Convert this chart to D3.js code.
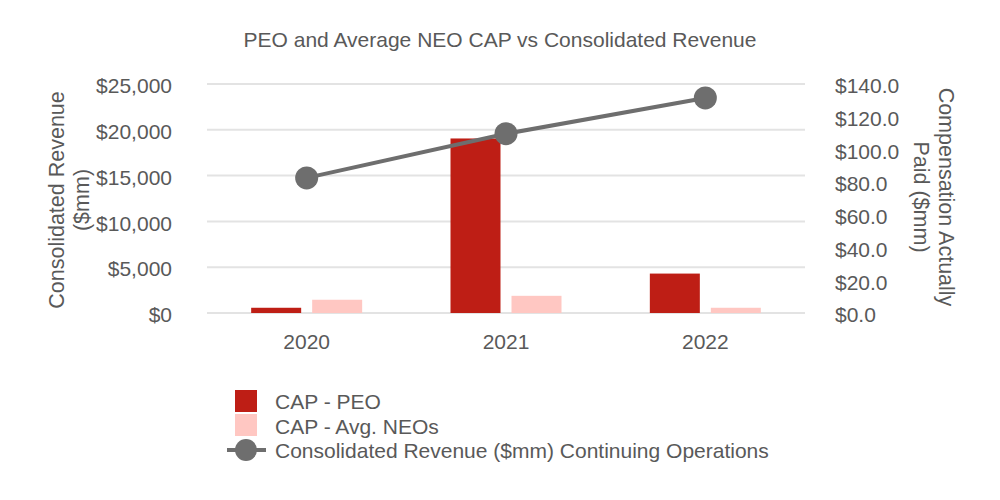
<!DOCTYPE html>
<html>
<head>
<meta charset="utf-8">
<script src="https://cdn.jsdelivr.net/npm/d3@7"></script>
<style>
  body { margin: 0; background: #fff; }
  text { font-family: "Liberation Sans", Arial, sans-serif; fill: #595959; }
</style>
</head>
<body>
<svg id="chart" width="1000" height="500"></svg>
<script>
var years = ["2020", "2021", "2022"];
var capPeo = [3.2, 106.7, 24.1];
var capNeo = [8.1, 10.5, 3.2];
var revenue = [14750, 19570, 23480];
var revTicks = [0, 5000, 10000, 15000, 20000, 25000];
var capTicks = [0, 20, 40, 60, 80, 100, 120, 140];

var svg = d3.select("#chart"),
    plotLeft = 207, plotRight = 805, plotTop = 84, plotBottom = 313,
    fs = "21px";

var x = d3.scaleBand().domain(years).range([plotLeft, plotRight]);
var yRev = d3.scaleLinear().domain([0, 25000]).range([plotBottom, plotTop]);
var yCap = d3.scaleLinear().domain([0, 140]).range([plotBottom, plotTop]);

svg.append("text")
    .attr("x", 500).attr("y", 47)
    .attr("text-anchor", "middle")
    .style("font-size", fs)
    .text("PEO and Average NEO CAP vs Consolidated Revenue");

// gridlines
svg.append("g").selectAll("line").data(revTicks).join("line")
    .attr("x1", plotLeft).attr("x2", plotRight)
    .attr("y1", d => yRev(d)).attr("y2", d => yRev(d))
    .attr("stroke", "#e3e3e3").attr("stroke-width", 2);

function styleAxis(g) {
  g.select(".domain").remove();
  g.selectAll("text").style("font-size", fs)
    .style("font-family", "Liberation Sans, Arial, sans-serif").attr("fill", "#595959");
}

// left axis
svg.append("g")
    .attr("transform", "translate(" + (plotLeft - 35) + ",2)")
    .call(d3.axisLeft(yRev).tickValues(revTicks).tickSize(0).tickPadding(0)
      .tickFormat(d => "$" + d3.format(",")(d)))
    .call(styleAxis);

// right axis
svg.append("g")
    .attr("transform", "translate(" + (plotRight + 30) + ",2)")
    .call(d3.axisRight(yCap).tickValues(capTicks).tickSize(0).tickPadding(0)
      .tickFormat(d => "$" + d3.format(".1f")(d)))
    .call(styleAxis);

// x axis
svg.append("g")
    .attr("transform", "translate(0," + (plotBottom + 21) + ")")
    .call(d3.axisBottom(x).tickSize(0).tickPadding(0))
    .call(styleAxis)
    .selectAll("text").attr("dy", "0.7em");

// axis titles
function vTitle(tx, ty, rot, txt) {
  svg.append("text")
      .attr("transform", "translate(" + tx + "," + ty + ") rotate(" + rot + ")")
      .attr("text-anchor", "middle")
      .style("font-size", "21.5px")
      .text(txt);
}
vTitle(64, 200, -90, "Consolidated Revenue");
vTitle(89, 200, -90, "($mm)");
vTitle(939, 197, 90, "Compensation Actually");
vTitle(914, 197, 90, "Paid ($mm)");

// bars
var barW = 50, gap = 11;
svg.append("g").selectAll("rect").data(years).join("rect")
    .attr("x", d => x(d) + x.bandwidth() / 2 - gap / 2 - barW)
    .attr("y", (d, i) => yCap(capPeo[i]))
    .attr("width", barW)
    .attr("height", (d, i) => plotBottom - yCap(capPeo[i]))
    .attr("fill", "#BE1E15");
svg.append("g").selectAll("rect").data(years).join("rect")
    .attr("x", d => x(d) + x.bandwidth() / 2 + gap / 2)
    .attr("y", (d, i) => yCap(capNeo[i]))
    .attr("width", barW)
    .attr("height", (d, i) => plotBottom - yCap(capNeo[i]))
    .attr("fill", "#FFC7C2");

// revenue line
var line = d3.line()
    .x((d, i) => x(years[i]) + x.bandwidth() / 2)
    .y(d => yRev(d));
svg.append("path").datum(revenue)
    .attr("d", line)
    .attr("fill", "none")
    .attr("stroke", "#6E6E6E")
    .attr("stroke-width", 4);
svg.append("g").selectAll("circle").data(revenue).join("circle")
    .attr("cx", (d, i) => x(years[i]) + x.bandwidth() / 2)
    .attr("cy", d => yRev(d))
    .attr("r", 11.5)
    .attr("fill", "#6E6E6E");

// legend
var lg = svg.append("g");
lg.append("rect").attr("x", 235).attr("y", 390).attr("width", 22).attr("height", 22).attr("fill", "#BE1E15");
lg.append("rect").attr("x", 235).attr("y", 414).attr("width", 22).attr("height", 22).attr("fill", "#FFC7C2");
lg.append("line").attr("x1", 227).attr("x2", 266).attr("y1", 450).attr("y2", 450)
    .attr("stroke", "#6E6E6E").attr("stroke-width", 4);
lg.append("circle").attr("cx", 246).attr("cy", 450).attr("r", 11).attr("fill", "#6E6E6E");
var labels = ["CAP - PEO", "CAP - Avg. NEOs", "Consolidated Revenue ($mm) Continuing Operations"];
lg.selectAll("text").data(labels).join("text")
    .attr("x", 275)
    .attr("y", (d, i) => 402 + i * 24.5)
    .attr("dy", "0.35em")
    .style("font-size", fs)
    .text(d => d);
</script>
</body>
</html>
